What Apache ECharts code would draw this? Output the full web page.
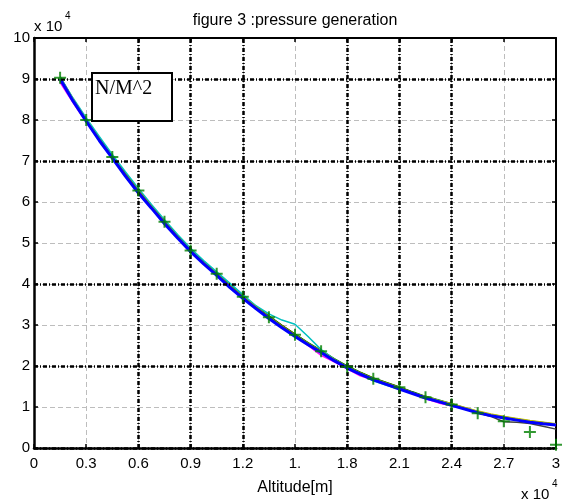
<!DOCTYPE html>
<html><head><meta charset="utf-8">
<script src="https://cdn.jsdelivr.net/npm/echarts@6/dist/echarts.min.js"></script>
<style>html,body{margin:0;padding:0;background:#fff}#c{width:566px;height:503px}</style>
</head><body><div id="c"></div>
<script>
// Altitude in units of 10^4 m, pressure in units of 10^4 N/M^2
const altitude = [0.15,0.225,0.3,0.375,0.45,0.525,0.6,0.675,0.75,0.825,0.9,0.975,1.05,1.125,1.2,1.275,1.35,1.425,1.5,1.575,1.65,1.725,1.8,1.875,1.95,2.025,2.1,2.175,2.25,2.325,2.4,2.475,2.55,2.625,2.7,2.775,2.85,2.925,3.0];
const redP     = [9.02,8.48,7.98,7.55,7.08,6.69,6.27,5.90,5.51,5.17,4.81,4.53,4.24,3.97,3.70,3.45,3.21,2.99,2.78,2.56,2.37,2.17,1.99,1.84,1.70,1.59,1.48,1.36,1.25,1.16,1.07,0.97,0.88,0.81,0.75,0.70,0.65,0.61,0.57];
const greenP   = [9.05,8.51,8.01,7.56,7.11,6.70,6.29,5.91,5.53,5.18,4.84,4.54,4.27,3.98,3.71,3.46,3.22,2.99,2.78,2.57,2.38,2.18,2.00,1.85,1.71,1.60,1.49,1.37,1.26,1.17,1.08,0.98,0.89,0.82,0.76,0.71,0.66,0.62,0.58];
const magentaP = [8.92,8.42,7.95,7.50,7.06,6.65,6.25,5.87,5.50,5.14,4.80,4.50,4.22,3.94,3.67,3.42,3.18,2.95,2.73,2.50,2.26,2.10,1.93,1.76,1.66,1.56,1.45,1.33,1.20,1.10,1.03,0.95,0.86,0.79,0.73,0.68,0.63,0.59,0.55];
const cyanP    = [9.05,8.53,8.05,7.60,7.16,6.74,6.33,5.94,5.57,5.21,4.87,4.57,4.30,4.02,3.74,3.47,3.27,3.12,3.02,2.72,2.40,2.17,1.97,1.80,1.64,1.53,1.44,1.34,1.24,1.16,1.07,0.97,0.88,0.81,0.75,0.70,0.65,0.61,0.57];
const yellowP  = [9.03,8.50,8.00,7.54,7.10,6.68,6.28,5.89,5.52,5.16,4.82,4.52,4.25,3.96,3.69,3.44,3.20,2.97,2.76,2.55,2.36,2.16,1.98,1.83,1.69,1.58,1.47,1.35,1.25,1.16,1.08,0.99,0.90,0.83,0.77,0.72,0.67,0.63,0.59];
const grayP    = [9.00,8.47,7.99,7.53,7.09,6.67,6.27,5.88,5.51,5.15,4.81,4.51,4.24,3.95,3.68,3.43,3.19,2.96,2.75,2.54,2.35,2.15,1.97,1.82,1.68,1.57,1.46,1.34,1.23,1.14,1.05,0.95,0.86,0.77,0.64,0.63,0.60,0.53,0.46];
const blueP    = [9.00,8.46,7.97,7.50,7.07,6.63,6.22,5.85,5.47,5.12,4.79,4.49,4.21,3.92,3.65,3.40,3.16,2.93,2.72,2.52,2.33,2.13,1.95,1.80,1.66,1.55,1.44,1.33,1.22,1.13,1.04,0.95,0.86,0.79,0.73,0.68,0.63,0.59,0.56];
const markerAlt = [0.15,0.3,0.45,0.6,0.75,0.9,1.05,1.2,1.35,1.5,1.65,1.8,1.95,2.1,2.25,2.4,2.55,2.7,2.85,3.0];
const markerP   = [9.03,8.00,7.10,6.28,5.52,4.82,4.25,3.69,3.19,2.76,2.36,1.98,1.69,1.48,1.24,1.06,0.85,0.65,0.39,0.08];
const xTickLabels = ['0','0.3','0.6','0.9','1.2','1.','1.8','2.1','2.4','2.7','3'];
const yTickLabels = ['0','1','2','3','4','5','6','7','8','9','10'];
const thickGridX = [0.6,0.9,1.2,1.8,2.1,2.4];
const thickGridY = [0,2,4,7,9];

const FONT = '"Liberation Sans", Arial, Helvetica, sans-serif';
const zip = (xs, ys) => xs.map((x, i) => [x, ys[i]]);
const lineSeries = (name, ys, color, width, z) => ({
  name, type: 'line', data: zip(altitude, ys), showSymbol: false, symbol: 'none',
  lineStyle: { color, width }, z, silent: true, animation: false
});

const chart = echarts.init(document.getElementById('c'), null, { renderer: 'canvas' });
const axisCommon = {
  type: 'value',
  axisLine: { show: true, onZero: false, lineStyle: { color: '#000', width: 2.5 } },
  axisTick: { show: true, inside: true, length: 4, lineStyle: { color: '#000', width: 1.5 } },
};
chart.setOption({
  animation: false,
  backgroundColor: '#fff',
  grid: { left: 34, right: 10, top: 38, bottom: 55, show: false },
  xAxis: [
    Object.assign({}, axisCommon, {
      min: 0, max: 3, interval: 0.3, position: 'bottom',
      axisLabel: { fontSize: 15, color: '#000', fontFamily: FONT, margin: 8,
        formatter: v => xTickLabels[Math.round(v / 0.3)] },
      splitLine: { show: true, lineStyle: { color: '#bdbdbd', width: 1, type: [5, 3] } },
      name: 'Altitude[m]', nameLocation: 'middle', nameGap: 32,
      nameTextStyle: { fontSize: 16, color: '#000', fontFamily: FONT }
    }),
    Object.assign({}, axisCommon, {
      min: 0, max: 3, interval: 0.3, position: 'top',
      axisLine: { show: true, onZero: false, lineStyle: { color: '#000', width: 2 } },
      axisLabel: { show: false }, splitLine: { show: false }
    })
  ],
  yAxis: [
    Object.assign({}, axisCommon, {
      min: 0, max: 10, interval: 1, position: 'left',
      axisLabel: { fontSize: 15, color: '#000', fontFamily: FONT, margin: 4,
        formatter: v => yTickLabels[Math.round(v)] },
      splitLine: { show: true, lineStyle: { color: '#bdbdbd', width: 1, type: [5, 3] } }
    }),
    Object.assign({}, axisCommon, {
      min: 0, max: 10, interval: 1, position: 'right',
      axisLine: { show: true, onZero: false, lineStyle: { color: '#000', width: 2 } },
      axisLabel: { show: false }, splitLine: { show: false }
    })
  ],
  series: [
    {
      name: 'grid', type: 'line', data: [], z: 1, silent: true,
      markLine: {
        silent: true, symbol: ['none', 'none'], label: { show: false }, animation: false,
        lineStyle: { color: '#000', width: 2.5, type: [4, 2, 1, 2] },
        emphasis: { disabled: true },
        data: thickGridX.map(v => ({ xAxis: v })).concat(thickGridY.map(v => ({ yAxis: v })))
      }
    },
    lineSeries('red', redP, '#ff0000', 1.5, 3),
    lineSeries('green', greenP, '#008000', 1.5, 3),
    lineSeries('magenta', magentaP, '#ff00ff', 1.5, 3),
    lineSeries('cyan', cyanP, '#00bfbf', 1.5, 3),
    lineSeries('yellow', yellowP, '#bfbf00', 1.5, 3),
    lineSeries('gray', grayP, '#404040', 1.5, 3),
    lineSeries('blue', blueP, '#0000ff', 3, 4),
    {
      name: 'markers', type: 'scatter', data: zip(markerAlt, markerP), z: 5, silent: true,
      symbol: 'path://M0,5L10,5M5,0L5,10', symbolSize: 12,
      itemStyle: { color: 'none', borderColor: '#008000', borderWidth: 2 }
    }
  ],
  graphic: [
    { type: 'text', x: 295, y: 21, z: 10, style: { text: 'figure 3 :pressure generation', fontSize: 16, fontFamily: FONT, fill: '#000', align: 'center', verticalAlign: 'middle' } },
    { type: 'text', x: 34, y: 27, z: 10, style: { text: 'x 10', fontSize: 15, fontFamily: FONT, fill: '#000', align: 'left', verticalAlign: 'middle' } },
    { type: 'text', x: 65, y: 16, z: 10, style: { text: '4', fontSize: 10, fontFamily: FONT, fill: '#000', align: 'left', verticalAlign: 'middle' } },
    { type: 'text', x: 521, y: 495, z: 10, style: { text: 'x 10', fontSize: 15, fontFamily: FONT, fill: '#000', align: 'left', verticalAlign: 'middle' } },
    { type: 'text', x: 552, y: 484, z: 10, style: { text: '4', fontSize: 10, fontFamily: FONT, fill: '#000', align: 'left', verticalAlign: 'middle' } },
    { type: 'rect', z: 20, shape: { x: 92, y: 73, width: 80, height: 48 }, style: { fill: '#fff', stroke: '#000', lineWidth: 2 } },
    { type: 'text', x: 95, y: 89, z: 21, style: { text: 'N/M^2', fontSize: 20, fontFamily: '"Liberation Serif", "Times New Roman", serif', fill: '#000', align: 'left', verticalAlign: 'middle' } }
  ]
});
</script>
</body></html>
